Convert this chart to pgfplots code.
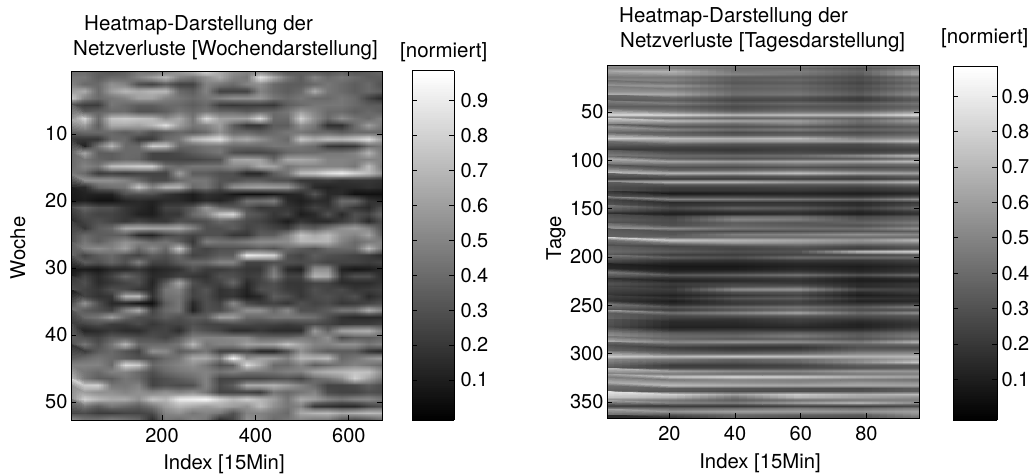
\documentclass[border=0pt]{standalone}
\usepackage{fontspec}
\setmainfont{TeX Gyre Heros}
\usepackage{pgfplots}
\usepackage{pgfplotstable}
\usepgfplotslibrary{patchplots}
\pgfplotsset{compat=1.18}
\pgfplotsset{
  /pgf/number format/assume math mode=true,
  tick label style={font=\fontsize{20}{20}\selectfont},
}
\newcommand{\txtL}{\fontsize{20.5}{20.5}\selectfont}
\newcommand{\txtM}{\fontsize{20.3}{20.3}\selectfont}
% weekly: 52 rows, 24 columns (last line repeats row 52 beyond the axis edge)
\pgfplotstableread[row sep=crcr,header=false]{
40\\40\\35\\30\\35\\45\\40\\45\\60\\70\\85\\65\\55\\50\\45\\35\\30\\35\\30\\30\\35\\30\\35\\40\\
45\\45\\35\\40\\40\\50\\60\\70\\50\\45\\55\\65\\50\\45\\88\\65\\45\\35\\50\\40\\45\\40\\35\\35\\
50\\40\\40\\55\\50\\30\\25\\35\\25\\25\\50\\45\\40\\50\\55\\40\\35\\35\\40\\45\\40\\35\\40\\30\\
60\\65\\40\\60\\70\\65\\70\\70\\40\\35\\50\\25\\25\\25\\50\\40\\35\\40\\65\\45\\40\\35\\40\\35\\
78\\50\\40\\45\\50\\62\\62\\50\\45\\40\\45\\50\\55\\55\\58\\45\\40\\45\\40\\40\\45\\40\\25\\15\\
28\\22\\22\\45\\40\\35\\35\\40\\40\\35\\40\\22\\20\\22\\22\\20\\35\\40\\45\\45\\45\\40\\35\\35\\
40\\35\\38\\40\\40\\30\\30\\35\\45\\40\\45\\40\\40\\35\\40\\40\\45\\60\\50\\40\\40\\35\\40\\35\\
55\\82\\40\\75\\78\\75\\72\\55\\65\\45\\85\\62\\62\\62\\85\\40\\40\\80\\55\\40\\55\\45\\40\\50\\
65\\60\\35\\65\\65\\62\\70\\85\\60\\45\\50\\60\\35\\20\\20\\35\\35\\55\\45\\18\\18\\40\\60\\45\\
35\\40\\40\\40\\35\\40\\30\\35\\40\\35\\40\\55\\40\\40\\35\\40\\45\\45\\40\\40\\35\\40\\40\\40\\
20\\20\\20\\40\\40\\22\\22\\40\\45\\70\\78\\85\\60\\65\\55\\45\\40\\75\\65\\72\\70\\75\\85\\60\\
25\\12\\45\\70\\40\\40\\80\\75\\40\\40\\45\\45\\40\\40\\40\\45\\45\\45\\40\\20\\18\\20\\40\\45\\
40\\65\\35\\35\\40\\40\\25\\25\\28\\35\\40\\45\\28\\25\\25\\28\\38\\40\\40\\45\\45\\50\\70\\45\\
40\\45\\38\\35\\40\\38\\25\\25\\25\\25\\28\\30\\62\\65\\62\\40\\65\\65\\62\\50\\50\\48\\50\\50\\
40\\50\\45\\72\\75\\78\\78\\45\\40\\45\\45\\45\\52\\50\\65\\62\\45\\50\\50\\50\\50\\45\\72\\45\\
45\\40\\22\\25\\22\\25\\25\\25\\60\\35\\35\\30\\30\\15\\15\\35\\45\\72\\75\\85\\90\\80\\72\\55\\
45\\55\\55\\55\\50\\40\\28\\28\\40\\45\\45\\32\\30\\35\\35\\30\\30\\20\\20\\22\\18\\20\\20\\18\\
15\\15\\38\\42\\45\\75\\50\\68\\68\\40\\45\\30\\55\\60\\62\\60\\58\\35\\15\\12\\15\\15\\18\\15\\
10\\12\\12\\12\\30\\30\\30\\20\\15\\10\\18\\15\\8\\5\\5\\8\\12\\15\\32\\15\\15\\5\\5\\5\\
8\\10\\5\\5\\12\\15\\12\\15\\15\\10\\15\\12\\20\\45\\45\\50\\15\\10\\15\\15\\42\\42\\20\\15\\
30\\38\\30\\30\\20\\15\\10\\25\\25\\35\\58\\40\\35\\30\\20\\22\\20\\15\\25\\20\\30\\20\\15\\30\\
25\\30\\25\\25\\20\\12\\10\\20\\20\\40\\50\\75\\82\\35\\30\\20\\25\\10\\15\\30\\15\\30\\25\\40\\
15\\25\\30\\25\\20\\25\\20\\20\\30\\28\\30\\40\\35\\28\\25\\18\\10\\20\\15\\15\\22\\30\\15\\30\\
25\\20\\35\\40\\65\\65\\62\\62\\65\\50\\30\\30\\35\\25\\30\\25\\22\\40\\35\\45\\55\\60\\50\\30\\
30\\40\\35\\35\\35\\15\\12\\25\\30\\25\\30\\30\\20\\20\\35\\35\\50\\75\\65\\72\\55\\50\\62\\35\\
30\\45\\35\\45\\55\\50\\40\\45\\35\\20\\50\\45\\45\\50\\55\\55\\55\\70\\70\\70\\50\\40\\45\\50\\
35\\50\\55\\50\\62\\40\\55\\40\\78\\30\\25\\30\\30\\30\\35\\30\\40\\35\\30\\40\\40\\40\\72\\45\\
40\\25\\35\\40\\30\\25\\35\\30\\40\\25\\28\\35\\35\\90\\85\\80\\30\\25\\35\\30\\28\\25\\22\\15\\
30\\35\\30\\38\\30\\48\\25\\25\\35\\40\\40\\50\\50\\25\\25\\30\\30\\28\\30\\25\\25\\25\\22\\25\\
8\\10\\8\\15\\15\\20\\12\\15\\18\\30\\22\\22\\25\\20\\20\\45\\15\\12\\55\\55\\12\\8\\10\\15\\
10\\25\\15\\25\\40\\30\\15\\18\\25\\20\\18\\30\\30\\22\\25\\50\\25\\25\\68\\65\\20\\30\\30\\15\\
20\\30\\15\\20\\25\\30\\12\\35\\65\\30\\22\\25\\40\\15\\25\\30\\20\\20\\25\\25\\15\\15\\15\\20\\
30\\25\\20\\30\\28\\20\\15\\45\\50\\25\\32\\18\\22\\12\\30\\30\\22\\20\\30\\25\\28\\20\\22\\25\\
10\\25\\18\\20\\68\\70\\18\\42\\45\\25\\30\\18\\20\\10\\15\\35\\30\\20\\28\\30\\25\\30\\15\\22\\
30\\55\\30\\15\\15\\8\\5\\35\\45\\15\\30\\25\\52\\28\\22\\25\\20\\30\\25\\28\\20\\22\\25\\30\\
45\\35\\30\\25\\50\\65\\25\\40\\45\\12\\30\\28\\40\\55\\55\\40\\52\\30\\30\\35\\45\\45\\65\\50\\
30\\40\\45\\60\\40\\30\\28\\35\\30\\35\\35\\60\\60\\40\\40\\45\\45\\45\\42\\30\\18\\15\\15\\15\\
22\\25\\30\\22\\22\\28\\20\\25\\25\\30\\25\\25\\28\\28\\25\\25\\22\\25\\28\\25\\20\\22\\22\\25\\
30\\12\\15\\20\\15\\15\\25\\25\\15\\35\\30\\25\\15\\15\\20\\15\\15\\15\\60\\38\\65\\68\\70\\50\\
35\\30\\25\\35\\35\\30\\30\\25\\35\\50\\50\\50\\52\\52\\40\\40\\40\\45\\45\\55\\28\\35\\35\\40\\
30\\45\\30\\45\\70\\40\\40\\40\\45\\70\\45\\50\\50\\62\\60\\62\\75\\62\\50\\50\\55\\55\\45\\50\\
20\\22\\35\\40\\32\\25\\55\\52\\35\\40\\45\\25\\25\\28\\15\\15\\30\\55\\42\\35\\35\\35\\20\\15\\
35\\40\\45\\40\\35\\30\\30\\40\\45\\65\\65\\50\\95\\55\\62\\60\\50\\70\\68\\72\\40\\45\\55\\60\\
50\\50\\50\\40\\85\\78\\40\\45\\50\\55\\45\\30\\35\\85\\65\\40\\40\\50\\35\\40\\45\\50\\45\\40\\
50\\45\\40\\50\\50\\40\\30\\40\\45\\48\\50\\45\\50\\45\\45\\45\\50\\50\\65\\70\\72\\75\\75\\55\\
70\\45\\35\\35\\45\\40\\25\\30\\35\\40\\50\\25\\25\\25\\25\\28\\30\\25\\40\\45\\55\\80\\62\\45\\
80\\78\\80\\45\\45\\50\\25\\30\\28\\30\\50\\28\\35\\65\\65\\68\\60\\50\\40\\25\\25\\28\\35\\28\\
55\\60\\55\\55\\50\\55\\50\\55\\50\\55\\45\\25\\25\\25\\22\\45\\40\\45\\50\\28\\25\\25\\30\\28\\
55\\80\\70\\65\\65\\55\\75\\70\\90\\92\\95\\80\\70\\78\\70\\60\\45\\65\\60\\50\\45\\50\\52\\45\\
45\\45\\35\\45\\40\\35\\45\\60\\70\\65\\60\\65\\60\\55\\72\\55\\45\\50\\20\\18\\15\\15\\25\\30\\
25\\28\\22\\22\\25\\25\\28\\50\\55\\45\\50\\45\\30\\50\\50\\45\\40\\65\\70\\72\\65\\68\\72\\70\\
55\\45\\45\\50\\45\\40\\15\\45\\40\\50\\45\\15\\25\\55\\50\\40\\45\\50\\45\\45\\30\\25\\30\\40\\
55\\45\\45\\50\\45\\40\\15\\45\\40\\50\\45\\15\\25\\55\\50\\40\\45\\50\\45\\45\\30\\25\\30\\40\\
}\WeekData
% daily: 122 rows (every third day), 6 columns (last line repeats row 122 beyond the axis edge)
\pgfplotstableread[row sep=crcr,header=false]{
55\\52\\48\\50\\42\\48\\
50\\48\\42\\40\\32\\45\\
68\\68\\45\\48\\38\\62\\
62\\60\\50\\45\\35\\65\\
45\\45\\35\\35\\28\\42\\
52\\50\\36\\40\\30\\48\\
42\\42\\32\\34\\25\\40\\
58\\58\\38\\40\\30\\48\\
48\\46\\36\\38\\28\\42\\
55\\55\\40\\42\\32\\50\\
68\\65\\42\\45\\35\\55\\
40\\40\\30\\30\\22\\38\\
34\\36\\26\\28\\22\\35\\
48\\48\\35\\40\\35\\45\\
35\\35\\28\\32\\30\\38\\
42\\40\\30\\36\\32\\42\\
50\\52\\40\\45\\45\\60\\
85\\85\\72\\75\\72\\88\\
40\\42\\35\\38\\35\\45\\
78\\70\\62\\60\\42\\62\\
50\\48\\42\\52\\38\\48\\
35\\32\\30\\32\\28\\35\\
58\\50\\42\\48\\38\\42\\
38\\35\\28\\32\\28\\35\\
40\\40\\35\\38\\35\\42\\
80\\72\\68\\72\\50\\55\\
50\\60\\58\\60\\60\\72\\
42\\38\\32\\32\\28\\40\\
28\\25\\25\\25\\25\\30\\
20\\22\\20\\24\\22\\25\\
35\\30\\26\\28\\26\\32\\
48\\40\\40\\42\\55\\75\\
38\\35\\30\\32\\32\\40\\
65\\62\\58\\62\\62\\72\\
42\\42\\40\\45\\40\\42\\
30\\30\\28\\30\\28\\32\\
42\\38\\40\\45\\40\\40\\
78\\68\\65\\72\\62\\60\\
38\\35\\32\\35\\30\\38\\
22\\20\\20\\22\\20\\25\\
68\\70\\70\\62\\60\\72\\
35\\32\\32\\32\\32\\40\\
28\\22\\22\\25\\22\\28\\
30\\20\\20\\20\\18\\22\\
18\\8\\10\\12\\10\\14\\
32\\25\\25\\22\\20\\28\\
52\\50\\48\\45\\40\\55\\
25\\15\\18\\18\\15\\22\\
32\\20\\22\\22\\16\\28\\
45\\28\\38\\35\\25\\40\\
30\\18\\22\\22\\15\\25\\
12\\10\\12\\15\\10\\18\\
28\\25\\42\\42\\28\\35\\
35\\28\\52\\48\\32\\38\\
30\\28\\35\\32\\38\\48\\
38\\30\\38\\35\\30\\40\\
60\\52\\45\\42\\42\\55\\
32\\30\\28\\30\\32\\35\\
35\\32\\48\\50\\55\\52\\
38\\38\\42\\42\\42\\42\\
82\\78\\70\\65\\58\\72\\
42\\48\\58\\55\\48\\50\\
28\\26\\30\\35\\28\\35\\
35\\30\\25\\28\\22\\30\\
40\\35\\30\\32\\75\\85\\
32\\22\\22\\25\\24\\30\\
45\\35\\30\\42\\40\\40\\
28\\20\\18\\22\\20\\25\\
20\\12\\12\\15\\15\\20\\
12\\8\\8\\12\\10\\15\\
15\\10\\10\\15\\12\\18\\
22\\15\\18\\22\\15\\20\\
45\\35\\38\\45\\32\\42\\
25\\18\\20\\22\\12\\18\\
18\\12\\15\\18\\10\\12\\
32\\22\\25\\22\\15\\20\\
25\\18\\30\\35\\15\\20\\
28\\22\\55\\58\\28\\25\\
22\\18\\30\\32\\15\\22\\
18\\12\\20\\25\\10\\15\\
24\\18\\32\\35\\18\\18\\
18\\10\\22\\25\\12\\15\\
22\\15\\20\\25\\20\\25\\
45\\32\\40\\45\\35\\50\\
30\\22\\30\\38\\28\\28\\
62\\42\\50\\62\\40\\55\\
35\\28\\32\\35\\30\\32\\
38\\22\\20\\25\\22\\28\\
32\\15\\16\\22\\15\\22\\
30\\14\\14\\18\\12\\20\\
26\\12\\12\\14\\12\\22\\
30\\20\\22\\22\\20\\30\\
50\\35\\32\\38\\32\\42\\
55\\40\\40\\48\\35\\48\\
45\\38\\32\\35\\30\\40\\
68\\52\\58\\55\\48\\72\\
40\\35\\30\\28\\35\\38\\
30\\22\\18\\18\\30\\28\\
38\\30\\25\\28\\38\\40\\
45\\40\\38\\42\\52\\55\\
78\\70\\75\\72\\68\\70\\
50\\45\\38\\42\\52\\60\\
52\\35\\32\\38\\55\\78\\
38\\22\\22\\25\\35\\35\\
32\\25\\25\\28\\30\\35\\
72\\62\\55\\52\\60\\58\\
48\\45\\40\\40\\45\\48\\
62\\75\\82\\78\\68\\62\\
48\\45\\50\\48\\45\\42\\
68\\60\\55\\52\\58\\55\\
65\\72\\68\\65\\65\\62\\
42\\35\\32\\30\\28\\35\\
35\\32\\28\\28\\30\\35\\
88\\80\\62\\78\\68\\72\\
75\\68\\45\\70\\62\\55\\
50\\45\\35\\42\\45\\48\\
62\\50\\48\\62\\72\\55\\
22\\20\\18\\22\\20\\25\\
48\\42\\45\\50\\45\\52\\
62\\58\\62\\60\\58\\62\\
42\\32\\40\\38\\35\\55\\
15\\18\\35\\30\\30\\45\\
15\\18\\35\\30\\30\\45\\
}\DayData
\begin{document}
\begin{tikzpicture}[x=1pt,y=1pt]
\path[use as bounding box] (0,0) rectangle (1032,474);
\begin{axis}[
  at={(71pt,54pt)}, anchor=south west, scale only axis,
  width=311pt, height=349pt,
  xmin=5, xmax=671, ymin=0.6, ymax=52.7, y dir=reverse,
  xtick={200,400,600}, ytick={10,20,30,40,50},
  tick align=inside, major tick length=5pt, tick style={black,line width=0.7pt},
  axis line style={line width=1pt},
  xticklabel style={yshift=-5pt},
  axis on top,
  colormap/blackwhite, point meta min=-0.015, point meta max=0.985,
  colorbar sampled,
  colorbar style={
    samples=160,
    at={(1.0965,0)}, anchor=south west, width=42pt, height=349pt,
    scale only axis, y dir=normal,
    ytick={0.1,0.2,0.3,0.4,0.5,0.6,0.7,0.8,0.9}, ytick pos=both,
    yticklabel pos=right, tick align=inside, major tick length=5pt,
    tick style={black,line width=0.7pt}, axis line style={line width=1pt},
    yticklabel style={xshift=3pt},
  },
]
\addplot[surf, shader=interp, patch type=bilinear, mesh/cols=24, point meta=explicit]
  table[x index=0, y index=0, x expr={5+mod(\coordindex,24)*666/23}, y expr={0.6+floor(\coordindex/24)*52.1/51}, meta expr=\thisrowno{0}/100] {\WeekData};
\end{axis}
\begin{axis}[
  at={(607pt,56pt)}, anchor=south west, scale only axis,
  width=312pt, height=352pt,
  xmin=1, xmax=96, ymin=2.4, ymax=366.6, y dir=reverse,
  xtick={20,40,60,80}, ytick={50,100,150,200,250,300,350},
  tick align=inside, major tick length=5pt, tick style={black,line width=0.7pt},
  axis line style={line width=1pt},
  xticklabel style={yshift=-5pt},
  axis on top,
  colormap/blackwhite, point meta min=-0.015, point meta max=0.985,
  colorbar sampled,
  colorbar style={
    samples=160,
    at={(1.109,-0.0057)}, anchor=south west, width=44pt, height=354pt,
    scale only axis, y dir=normal,
    ytick={0.1,0.2,0.3,0.4,0.5,0.6,0.7,0.8,0.9}, ytick pos=both,
    yticklabel pos=right, tick align=inside, major tick length=5pt,
    tick style={black,line width=0.7pt}, axis line style={line width=1pt},
    yticklabel style={xshift=1pt},
  },
]
\addplot[surf, shader=interp, patch type=bilinear, mesh/cols=6, point meta=explicit]
  table[x index=0, y index=0, x expr={1+mod(\coordindex,6)*19}, y expr={2.4+floor(\coordindex/6)*364.2/121}, meta expr=\thisrowno{0}/100] {\DayData};
\end{axis}
\node[anchor=west,inner sep=0pt,font=\txtL] at (84,449) {Heatmap-Darstellung der};
\node[anchor=west,inner sep=0pt,font=\txtL] at (73,424) {Netzverluste [Wochendarstellung]};
\node[anchor=west,inner sep=0pt,font=\txtL] at (400,422) {[normiert]};
\node[anchor=west,inner sep=0pt,font=\txtL] at (619,457) {Heatmap-Darstellung der};
\node[anchor=west,inner sep=0pt,font=\txtL] at (620,432) {Netzverluste [Tagesdarstellung]};
\node[anchor=west,inner sep=0pt,font=\txtL] at (941,436) {[normiert]};
\node[font=\txtM] at (224,10) {Index [15Min]};
\node[font=\txtM] at (760,11) {Index [15Min]};
\node[rotate=90,font=\txtM] at (18,226) {Woche};
\node[rotate=90,font=\txtM] at (556,236) {Tage};
\end{tikzpicture}
\end{document}
